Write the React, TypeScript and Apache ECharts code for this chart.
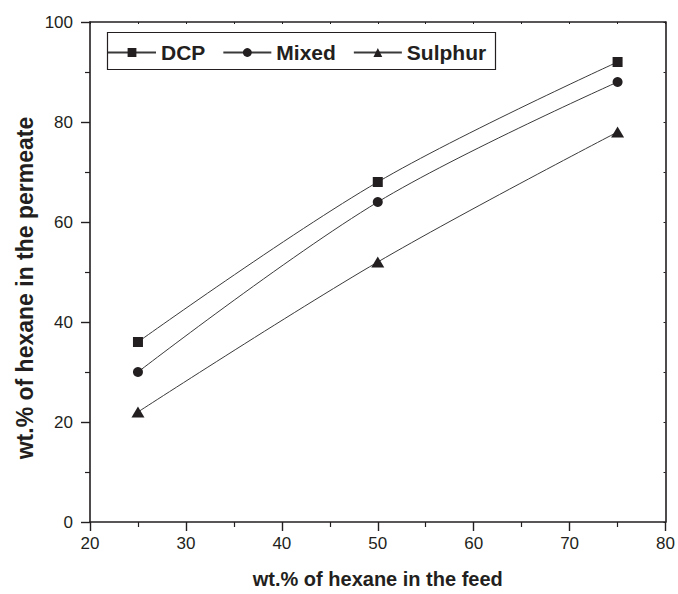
import React, { useEffect, useRef } from "react";
import * as echarts from "echarts";

const feed = [25, 50, 75];
const dcp = [36, 68, 92];
const mixed = [30, 64, 88];
const sulphur = [22, 52, 78];
const seriesNames = ["DCP", "Mixed", "Sulphur"];
const xTitle = "wt.% of hexane in the feed";
const yTitle = "wt.% of hexane in the permeate";

const INK = "#231f20";
const LINE = "#3a3a3a";
const FONT = '"Liberation Sans", Arial, Helvetica, sans-serif';

export default function App() {
  const ref = useRef<HTMLDivElement>(null);
  useEffect(() => {
    if (!ref.current) return;
    const chart = echarts.init(ref.current, null, { renderer: "svg" });
    const mk = (name: string, vals: number[], symbol: string, size: any) => ({
      name,
      type: "line",
      smooth: 0.35,
      data: feed.map((f, i) => [f, vals[i]]),
      symbol,
      symbolSize: size,
      showAllSymbol: true,
      lineStyle: { color: LINE, width: 1 },
      itemStyle: { color: INK, borderWidth: 0 },
      emphasis: { disabled: true },
      z: 3,
    });
    chart.setOption({
      animation: false,
      textStyle: { fontFamily: FONT },
      grid: { left: 90, top: 22, width: 577, height: 502, containLabel: false },
      legend: {
        left: 107,
        top: 42,
        padding: 0,
        itemWidth: 48,
        itemHeight: 11,
        itemGap: 17,
        data: seriesNames,
        textStyle: { fontFamily: FONT, fontWeight: "bold", fontSize: 21, color: INK },
        selectedMode: false,
      },
      xAxis: [
        {
          type: "value",
          position: "bottom",
          min: 20,
          max: 80,
          interval: 10,
          name: xTitle,
          nameLocation: "middle",
          nameGap: 47,
          nameTextStyle: { fontFamily: FONT, fontWeight: "bold", fontSize: 20, color: INK },
          axisLine: { show: true, onZero: false, lineStyle: { color: INK, width: 1.6 } },
          axisTick: { show: true, inside: false, length: 9, lineStyle: { color: INK, width: 1.4 } },
          minorTick: { show: true, splitNumber: 2, length: 5, lineStyle: { color: INK, width: 1.2 } },
          splitLine: { show: false },
          axisLabel: { fontFamily: FONT, fontSize: 17, color: INK, margin: 13 },
        },
        {
          type: "value",
          position: "top",
          min: 20,
          max: 80,
          interval: 5,
          axisLine: { show: true, onZero: false, lineStyle: { color: INK, width: 1.6 } },
          axisTick: { show: true, inside: true, length: 2, lineStyle: { color: INK, width: 1 } },
          splitLine: { show: false },
          axisLabel: { show: false },
        },
      ],
      yAxis: [
        {
          type: "value",
          position: "left",
          min: 0,
          max: 100,
          interval: 20,
          axisLine: { show: true, onZero: false, lineStyle: { color: INK, width: 1.6 } },
          axisTick: { show: true, inside: false, length: 9, lineStyle: { color: INK, width: 1.4 } },
          minorTick: { show: true, splitNumber: 2, length: 5, lineStyle: { color: INK, width: 1.2 } },
          splitLine: { show: false },
          axisLabel: { fontFamily: FONT, fontSize: 17, color: INK, margin: 17 },
        },
        {
          type: "value",
          position: "right",
          min: 0,
          max: 100,
          interval: 10,
          axisLine: { show: true, onZero: false, lineStyle: { color: INK, width: 1.6 } },
          axisTick: { show: true, inside: true, length: 2, lineStyle: { color: INK, width: 1 } },
          splitLine: { show: false },
          axisLabel: { show: false },
        },
      ],
      graphic: [
        {
          type: "rect",
          shape: { x: 107.5, y: 32.5, width: 388, height: 37 },
          style: { fill: "none", stroke: INK, lineWidth: 1.2 },
          silent: true,
          z: 10,
        },
        {
          type: "text",
          x: 25,
          y: 288,
          rotation: Math.PI / 2,
          style: {
            text: yTitle,
            font: `bold 23px ${FONT}`,
            fill: INK,
            textAlign: "center",
            textVerticalAlign: "middle",
          },
          silent: true,
        },
      ],
      series: [
        mk(seriesNames[0], dcp, "rect", 10),
        mk(seriesNames[1], mixed, "circle", 10),
        mk(seriesNames[2], sulphur, "triangle", [13, 11]),
      ],
    });
    return () => chart.dispose();
  }, []);
  return (
    <div
      ref={ref}
      style={{ position: "fixed", left: 0, top: 0, width: 678, height: 594, background: "#fff" }}
    />
  );
}
